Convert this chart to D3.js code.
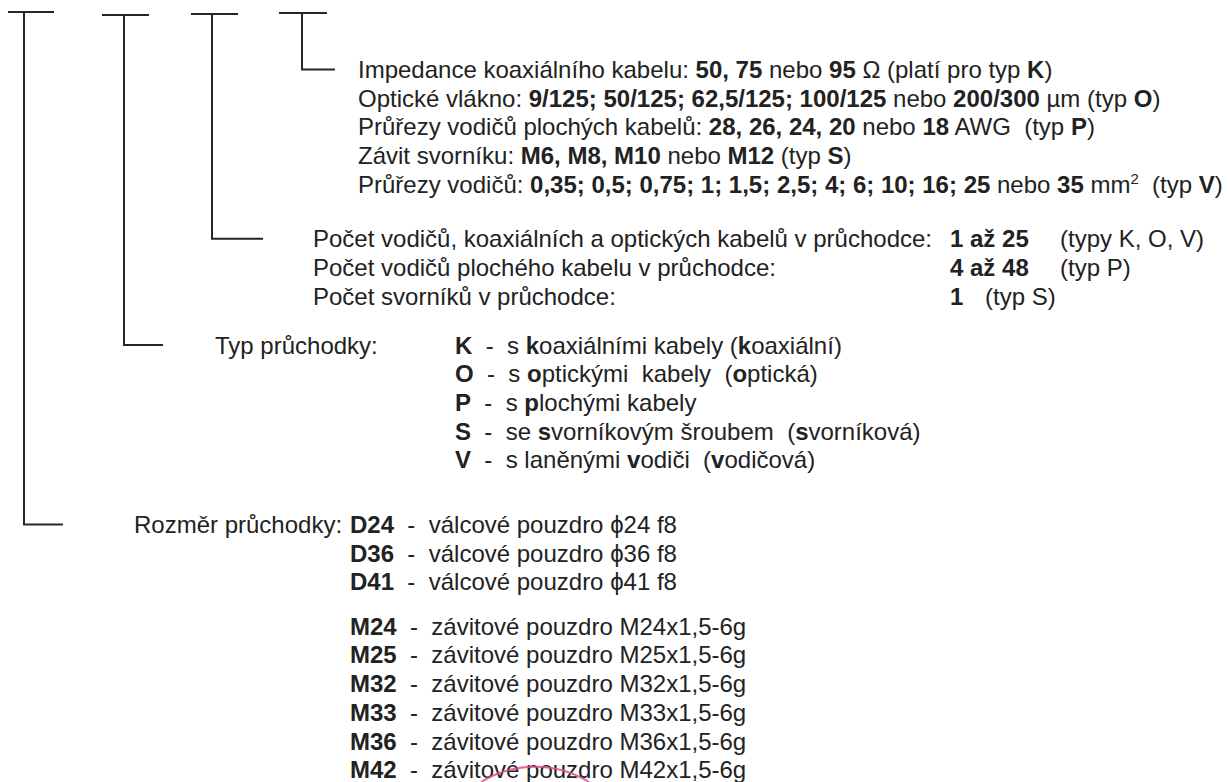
<!DOCTYPE html>
<html>
<head>
<meta charset="utf-8">
<script src="https://cdn.jsdelivr.net/npm/d3@7"></script>
<style>
body { margin: 0; background: #fff; }
svg text { font-family: "Liberation Sans", Arial, sans-serif; font-size: 24px; fill: #222; white-space: pre; }
</style>
</head>
<body>
<svg width="1228" height="782"></svg>
<script>
// ** toggles bold, ^2 is a superscript
var paramRows = [
    'Impedance koaxiálního kabelu: **50, 75** nebo **95** Ω (platí pro typ **K**)',
    'Optické vlákno: **9/125; 50/125; 62,5/125; 100/125** nebo **200/300** µm (typ **O**)',
    'Průřezy vodičů plochých kabelů: **28, 26, 24, 20** nebo **18** AWG  (typ **P**)',
    'Závit svorníku: **M6, M8, M10** nebo **M12** (typ **S**)',
    'Průřezy vodičů: **0,35; 0,5; 0,75; 1; 1,5; 2,5; 4; 6; 10; 16; 25** nebo **35** mm^2  (typ **V**)'
];

var countLabels = [
    'Počet vodičů, koaxiálních a optických kabelů v průchodce:',
    'Počet vodičů plochého kabelu v průchodce:',
    'Počet svorníků v průchodce:'
];
var countRanges = ['**1 až 25**', '**4 až 48**', '**1**'];
var countTypes = ['(typy K, O, V)', '(typ P)', '(typ S)'];

var typeLabel = 'Typ průchodky:';
var typeRows = [
    '**K**  -  s **k**oaxiálními kabely (**k**oaxiální)',
    '**O**  -  s **o**ptickými  kabely  (**o**ptická)',
    '**P**  -  s **p**lochými kabely',
    '**S**  -  se **s**vorníkovým šroubem  (**s**vorníková)',
    '**V**  -  s laněnými **v**odiči  (**v**odičová)'
];

var sizeLabel = 'Rozměr průchodky:';
var sizeCodes = ['D24', 'D36', 'D41', 'M24', 'M25', 'M32', 'M33', 'M36', 'M42'];
var sizeTexts = [
    'válcové pouzdro ϕ24 f8',
    'válcové pouzdro ϕ36 f8',
    'válcové pouzdro ϕ41 f8',
    'závitové pouzdro M24x1,5-6g',
    'závitové pouzdro M25x1,5-6g',
    'závitové pouzdro M32x1,5-6g',
    'závitové pouzdro M33x1,5-6g',
    'závitové pouzdro M36x1,5-6g',
    'závitové pouzdro M42x1,5-6g'
];

var svg = d3.select('svg');

// line slots -> baseline
var y = d3.scaleLinear().domain([0, 1]).range([78, 106.7]);
var capMid = 8.5;

// slot where each block starts
var slot = {param: 0, count: 5.9, type: 9.6, size: 15.85, thread: 19.4};

function runs(str) {
    var out = [], bold = false;
    str.split(/(\*\*|\^\d)/).forEach(function(p) {
        if (p === '**') { bold = !bold; return; }
        if (!p) return;
        if (p[0] === '^') out.push({t: p.slice(1), b: bold, sup: true});
        else out.push({t: p, b: bold});
    });
    return out;
}

function writeLine(g, x, yy, str) {
    var t = g.append('text').attr('x', x).attr('y', yy).attr('xml:space', 'preserve');
    var raised = false;
    runs(str).forEach(function(r) {
        var s = t.append('tspan').text(r.t).attr('font-weight', r.b ? 'bold' : null);
        if (r.sup) { s.attr('font-size', 15).attr('dy', -9); raised = true; }
        else if (raised) { s.attr('dy', 9); raised = false; }
    });
}

var textG = svg.append('g');

paramRows.forEach(function(d, i) {
    writeLine(textG, 358, y(slot.param + i), d);
});

countLabels.forEach(function(d, i) {
    writeLine(textG, 313, y(slot.count + i), d);
    writeLine(textG, 950, y(slot.count + i), countRanges[i]);
    writeLine(textG, i === 2 ? 985 : 1060, y(slot.count + i), countTypes[i]);
});

writeLine(textG, 215, y(slot.type), typeLabel);
typeRows.forEach(function(d, i) {
    writeLine(textG, 455, y(slot.type + i), d);
});

writeLine(textG, 134, y(slot.size), sizeLabel);
sizeCodes.forEach(function(d, i) {
    var s = i < 3 ? slot.size + i : slot.thread + (i - 3);
    writeLine(textG, 350, y(s), '**' + d + '**  -  ' + sizeTexts[i]);
});

// brackets, outermost first: top bar ends, stem column, row it points to, end of the foot
var brackets = [
    {l: 8, r: 54, x: 24, top: 12, row: slot.size, end: 63},
    {l: 102, r: 149, x: 124, top: 15, row: slot.type, end: 163},
    {l: 191, r: 238, x: 212, top: 14, row: slot.count, end: 263},
    {l: 279, r: 327, x: 302, top: 13, row: slot.param, end: 335}
];

svg.append('g').selectAll('path')
    .data(brackets)
    .join('path')
    .attr('fill', 'none')
    .attr('stroke', '#262626')
    .attr('stroke-width', 2)
    .attr('d', function(d) {
        var p = d3.path();
        p.moveTo(d.l, d.top);
        p.lineTo(d.r, d.top);
        p.moveTo(d.x, d.top);
        p.lineTo(d.x, y(d.row) - capMid);
        p.lineTo(d.end, y(d.row) - capMid);
        return p.toString();
    });

// edge of the pink stamp peeking in at the bottom
svg.append('path')
    .attr('fill', 'none')
    .attr('stroke', '#d9508a')
    .attr('stroke-opacity', 0.85)
    .attr('stroke-width', 2)
    .attr('d', 'M481,782 A103,103 0 0,1 589,782');
</script>
</body>
</html>
